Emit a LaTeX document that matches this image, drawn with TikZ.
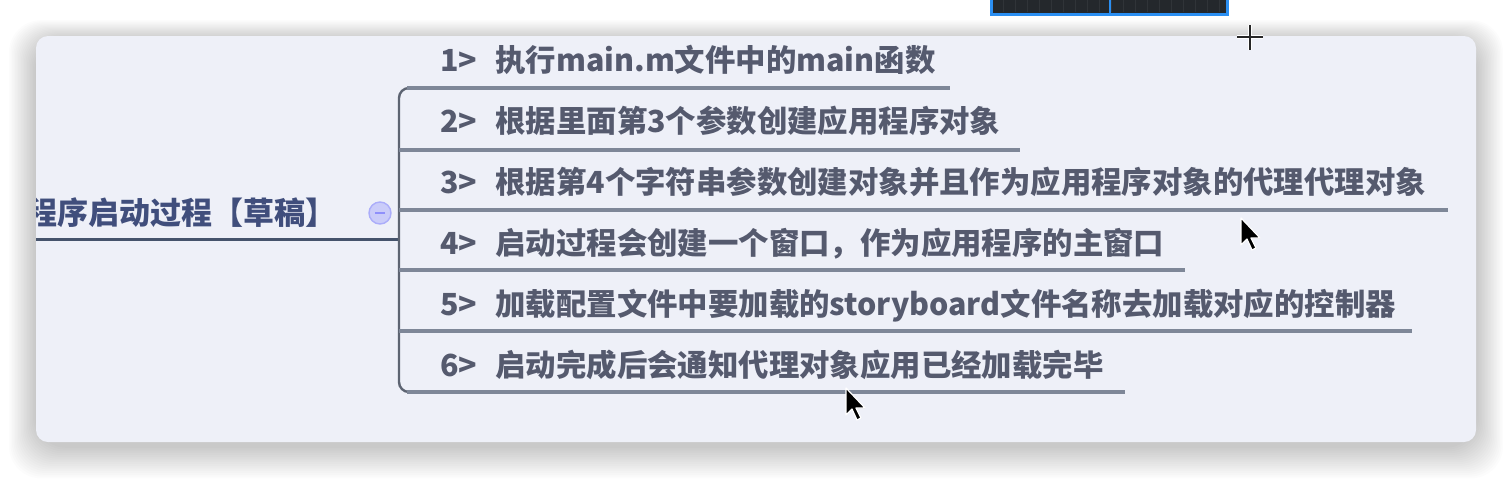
\documentclass[tikz,border=0pt]{standalone}
\usepackage{fontspec}
\setmainfont{Noto Sans CJK SC}
\newfontfamily\cjk{Noto Sans CJK SC}
\definecolor{panelbg}{HTML}{EEF0F8}
\definecolor{itemtext}{HTML}{555A6E}
\definecolor{roottext}{HTML}{404E7C}
\definecolor{uline}{HTML}{7E8798}
\definecolor{rootline}{HTML}{45536C}
\definecolor{brk}{HTML}{5D6472}
\definecolor{scrblue}{HTML}{2B8FF2}
\definecolor{scrdark}{HTML}{24282C}
\newcommand{\gp}{\hspace{9pt}}
\tikzset{
  itemlabel/.style={anchor=base west, inner sep=0pt, font=\cjk\bfseries\fontsize{15.2pt}{18pt}\selectfont, text=itemtext},
  rootlabel/.style={anchor=base west, inner sep=0pt, font=\cjk\bfseries\fontsize{15.5pt}{18pt}\selectfont, text=roottext},
  underl/.style={draw=uline, line width=2.1pt},
  bracketline/.style={draw=brk, line width=1.2pt, rounded corners=5pt},
  cursorshape/.style={fill=black, draw=white, line width=0.6pt, line join=round},
}
\begin{document}
\begin{tikzpicture}[x=0.5pt,y=-0.5pt]
\useasboundingbox (0,0) rectangle (1512,478);
\fill[white] (0,0) rectangle (1512,478);
% soft shadow of the panel
\foreach \i in {1,...,18}{
  \fill[black, opacity=0.011, rounded corners=16pt]
    (36-\i*1.5, 36-\i*1.1+4) rectangle (1476+\i*1.5, 442+\i*1.8+4);
}
% panel
\fill[panelbg, rounded corners=6pt] (36,36) rectangle (1476,442);
% dark window strip at top
\fill[scrblue] (990,-4) rectangle (1229,16);
\fill[scrdark] (993,-4) rectangle (1226,12.5);
\foreach \gx in {1003,1015,...,1220}{ \draw[white, opacity=0.06, line width=0.3pt] (\gx,0) -- (\gx,12); }
\draw[scrblue, line width=0.8pt] (1110,-4) -- (1110,13);
% root
\begin{scope}
  \clip (36,36) rectangle (1476,442);
  \node[rootlabel] (root) at (26,224) {程序启动过程【草稿】};
\end{scope}
\coordinate (rootstart) at (36,239);
\coordinate (rootend) at (399,239);
\draw[rootline, line width=1.5pt] (rootstart) -- (rootend);
% collapse button
\node[circle, minimum size=11pt, inner sep=0pt, fill=blue!15!panelbg, draw=blue!28!panelbg, line width=0.7pt] (btn) at (380,213) {};
\draw[blue!40!panelbg, line width=0.8pt] ([xshift=-2.4pt]btn.center) -- ([xshift=2.4pt]btn.center);
% items
\node[itemlabel] (i1) at (440,71)  {1>\gp 执行main.m文件中的main函数};
\node[itemlabel] (i2) at (440,132) {2>\gp 根据里面第3个参数创建应用程序对象};
\node[itemlabel] (i3) at (440,193) {3>\gp 根据第4个字符串参数创建对象并且作为应用程序对象的代理代理对象};
\node[itemlabel] (i4) at (440,254) {4>\gp 启动过程会创建一个窗口，作为应用程序的主窗口};
\node[itemlabel] (i5) at (440,315) {5>\gp 加载配置文件中要加载的storyboard文件名称去加载对应的控制器};
\node[itemlabel] (i6) at (440,376) {6>\gp 启动完成后会通知代理对象应用已经加载完毕};
% bracket
\coordinate (b1) at (399,88);
\coordinate (b2) at (399,150);
\coordinate (b3) at (399,210);
\coordinate (b4) at (399,270);
\coordinate (b5) at (399,331);
\coordinate (b6) at (399,392);
\draw[bracketline] ([xshift=10pt]b1) -- (b1) -- (b6) -- ([xshift=10pt]b6);
\coordinate (e1) at (950,88);
\coordinate (e2) at (1020,150);
\coordinate (e3) at (1448,210);
\coordinate (e4) at (1185,270);
\coordinate (e5) at (1412,331);
\coordinate (e6) at (1125,392);
\foreach \k in {2,3,4,5}{ \draw[underl] (b\k) -- (e\k); }
\draw[underl] ([xshift=4pt]b1) -- (e1);
\draw[underl] ([xshift=4pt]b6) -- (e6);
% mouse cursors
\draw[cursorshape] (1241,218) -- ++(0,27) -- ++(6,-6) -- ++(5,11) -- ++(4,-2) -- ++(-5,-10) -- ++(9,0) -- cycle;
\draw[cursorshape] (846,388) -- ++(0,27) -- ++(6,-6) -- ++(5,11) -- ++(4,-2) -- ++(-5,-10) -- ++(9,0) -- cycle;
% crosshair
\draw[white, line width=2.2pt] (1250,25) -- (1250,50) (1237,37) -- (1263,37);
\draw[black!85, line width=1pt] (1250,25) -- (1250,50) (1237,37) -- (1263,37);
\end{tikzpicture}
\end{document}
